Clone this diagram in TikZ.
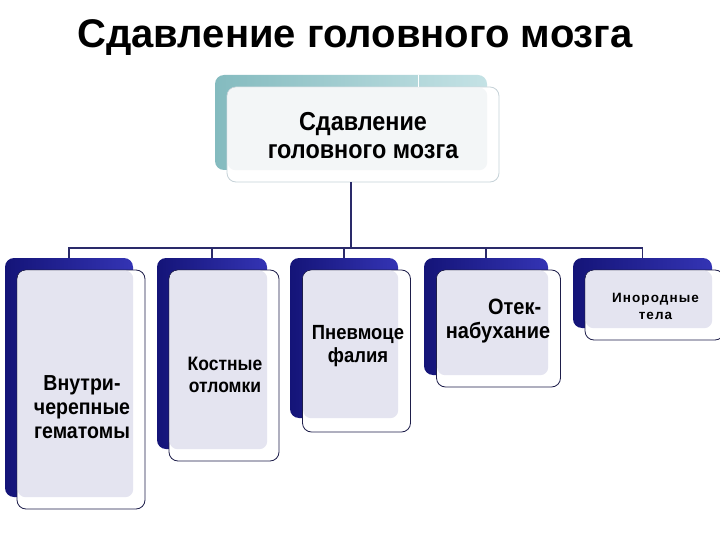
\documentclass[tikz,border=0pt]{standalone}
\usepackage{fontspec}
\setmainfont{Liberation Sans}
\newfontfamily\boxfont{Liberation Sans}[FakeStretch=0.9]
\usetikzlibrary{calc}

\definecolor{lnnavy}{HTML}{2A2A6A}
\definecolor{bkdark}{HTML}{141478}
\definecolor{bklight}{HTML}{3434B4}
\definecolor{lav}{HTML}{E4E4F0}
\definecolor{frline}{HTML}{1E1E4A}
\definecolor{tealdark}{HTML}{84BBBF}
\definecolor{teallight}{HTML}{C4E2E5}
\definecolor{topline}{HTML}{C6D2D8}
\definecolor{topfill}{HTML}{F3F6F7}

\begin{document}
\begin{tikzpicture} [
        x=1pt, y=-1pt,
        bk/.style n args={2}{
        rectangle, inner sep=0pt,
        minimum width=#1pt, minimum height=#2pt,
        rounded corners=9pt,
        left color=bkdark, right color=bklight
        },
        fr/.style n args={2}{
        rectangle, inner sep=0pt,
        minimum width=#1pt, minimum height=#2pt,
        rounded corners=9pt,
        fill=white, draw=frline, line width=0.8pt
        },
        txt/.style n args={2}{align=center, inner sep=0pt, font=\boxfont\fontsize{#1}{#2}\selectfont\bfseries},
        conn/.style={draw=lnnavy, line width=1.5pt}
    ]

    \path[use as bounding box, fill=white] (0,0) rectangle (720,540);

    \node[anchor=base, font=\fontsize{40}{48}\selectfont\bfseries](title) at (355,48) {Сдавление головного мозга};

    % верхний блок
    \node[bk = {272}{95}, left color=tealdark, right color=teallight](tbk) at (351,122.5) {};
    \node[fr = {272}{95}, draw=topline](tfr) at (363,134.5) {};
    \fill[topfill, rounded corners=8pt] ($(tfr.north west)+(1,1)$) rectangle (tbk.south east);
    \draw[white, line width=1pt] ($(tbk.north)+(67,0)$) -- ($(tfr.north)+(55,0)$);
    \node[txt = {26}{28}](t0) at (363,135.5) {Сдавление\\головного мозга};

    % нижние блоки
    \node[bk = {128}{239}](bk1) at (69,377.5) {};
    \node[fr = {128}{239}](fr1) at (81,389.5) {};
    \node[bk = {110}{191}](bk2) at (212,353.5) {};
    \node[fr = {110}{191}](fr2) at (224,365.5) {};
    \node[bk = {108}{160}](bk3) at (344,338) {};
    \node[fr = {108}{162}](fr3) at (356.5,351) {};
    \node[bk = {124}{117}](bk4) at (486,316.5) {};
    \node[fr = {124}{117}](fr4) at (498.5,328.5) {};
    \node[bk = {139}{70}](bk5) at (642.5,293) {};
    \node[fr = {139}{70}](fr5) at (654.5,305) {};

    \foreach \i in {1,...,5}
        \fill[lav, rounded corners=8pt] ($(fr\i.north west)+(1,1)$) rectangle (bk\i.south east);

    \node[txt = {21.7}{24}](t1) at (82,407.5) {Внутри-\\черепные\\гематомы};
    \node[txt = {19.4}{21.5}](t2) at (225,375) {Костные\\отломки};
    \node[txt = {20.5}{23}](t3) at (358,346) {Пневмоце\\фалия};
    \node[txt = {22.2}{23.5}](t4) at (498,321) {\hspace*{1.5em}Отек-\\набухание};
    \node[txt = {13.5}{17}, font=\fontsize{13.5}{17}\selectfont\bfseries\addfontfeature{LetterSpace=8}](t5) at (655.5,306) {Инородные\\тела};

    % связи
    \coordinate (bus) at (351,248);
    \draw[conn] (tbk.south |- tfr.south) -- (bus);
    \foreach \i in {1,...,5}
        \draw[conn] (bus) -| (bk\i.north);

\end{tikzpicture}
\end{document}
